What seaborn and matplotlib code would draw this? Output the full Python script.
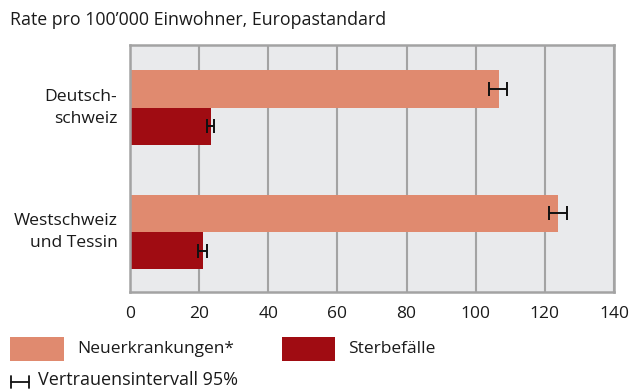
import matplotlib
matplotlib.use("Agg")
import matplotlib.pyplot as plt
from matplotlib.patches import Rectangle
from matplotlib.lines import Line2D
import seaborn as sns
import pandas as pd
import numpy as np

# Regions and series
regions = ["Deutsch-\nschweiz", "Westschweiz\nund Tessin"]
series = ["Neuerkrankungen*", "Sterbefälle"]
neuerkrankungen = [106.7, 123.7]
neuer_lo = [103.9, 121.1]
neuer_hi = [109.1, 126.4]
sterbefaelle = [23.3, 21.0]
sterbe_lo = [22.3, 19.6]
sterbe_hi = [24.2, 22.3]
x_ticks = [0, 20, 40, 60, 80, 100, 120, 140]

colors = {"Neuerkrankungen*": "#e08a6f", "Sterbefälle": "#a00c12"}
grid_col = "#a3a3a3"
bg_col = "#e9eaec"
text_col = "#1a1a1a"

sns.set_theme(style="white")
plt.rcParams["font.family"] = ["Open Sans", "DejaVu Sans"]

df = pd.DataFrame({
    "Region": regions * 2,
    "Serie": [series[0]] * 2 + [series[1]] * 2,
    "Rate": neuerkrankungen + sterbefaelle,
})

fig = plt.figure(figsize=(6.32, 3.90), dpi=100)
ax = fig.add_axes([130 / 632, 1 - 292 / 390, (614 - 130) / 632, (292 - 45) / 390])
ax.set_facecolor(bg_col)

sns.barplot(data=df, y="Region", x="Rate", hue="Serie", orient="h",
            palette=colors, width=0.6, dodge=True, errorbar=None,
            saturation=1, ax=ax, legend=False, zorder=3, linewidth=0)

# Confidence intervals, drawn at the centre of each bar
lows = [neuer_lo, sterbe_lo]
highs = [neuer_hi, sterbe_hi]
vals = [neuerkrankungen, sterbefaelle]
offsets = [-0.15, 0.15]
for k in range(2):
    y = np.arange(len(regions)) + offsets[k]
    v = np.array(vals[k])
    lo = v - np.array(lows[k])
    hi = np.array(highs[k]) - v
    ax.errorbar(v, y, xerr=[lo, hi], fmt="none", ecolor="#111111",
                elinewidth=1.4, capsize=5.2, capthick=1.4, zorder=5)

ax.set_xlim(0, 140)
ax.set_ylim(1.483, -0.504)
ax.set_xticks(x_ticks)
ax.set_xticklabels([str(t) for t in x_ticks], fontsize=12.5, color=text_col)
ax.tick_params(axis="x", length=4, width=1.3, color=grid_col, pad=6)
ax.tick_params(axis="y", length=0, pad=9, labelsize=12.6, labelcolor=text_col)
for lbl in ax.get_yticklabels():
    lbl.set_horizontalalignment("right")
    lbl.set_verticalalignment("center")
    lbl.set_linespacing(1.5)
ax.set_xlabel("")
ax.set_ylabel("")

ax.grid(axis="x", color=grid_col, linewidth=1.5, zorder=1)
ax.set_axisbelow(True)
for side, sp in ax.spines.items():
    sp.set_visible(True)
    sp.set_color(grid_col)
    sp.set_linewidth(1.8)
    sp.set_zorder(4)

fig.text(10 / 632, 1 - 20 / 390, "Rate pro 100’000 Einwohner, Europastandard",
         fontsize=12.8, color=text_col, va="center", ha="left")

# Legend row
def legend_patch(x0, x1, label, color):
    fig.add_artist(Rectangle((x0 / 632, 1 - 361 / 390), (x1 - x0) / 632, 24 / 390,
                             transform=fig.transFigure, facecolor=color,
                             edgecolor="none"))
    fig.text((x1 + 13) / 632, 1 - 349 / 390, label, fontsize=12.5,
             color=text_col, va="center", ha="left")

legend_patch(10, 64, series[0], colors[series[0]])
legend_patch(282, 335, series[1], colors[series[1]])

# Confidence-interval key
yk = 1 - 382 / 390
hk = 6 / 390
fig.add_artist(Line2D([11 / 632, 29 / 632], [yk, yk], transform=fig.transFigure,
                      color="#111111", linewidth=1.3))
for xx in (11, 29):
    fig.add_artist(Line2D([xx / 632, xx / 632], [yk - hk, yk + hk],
                          transform=fig.transFigure, color="#111111", linewidth=1.3))
fig.text(38 / 632, 1 - 380 / 390, "Vertrauensintervall 95%", fontsize=13, color=text_col,
         va="center", ha="left")

fig.savefig("out.png", dpi=100, facecolor="white")
